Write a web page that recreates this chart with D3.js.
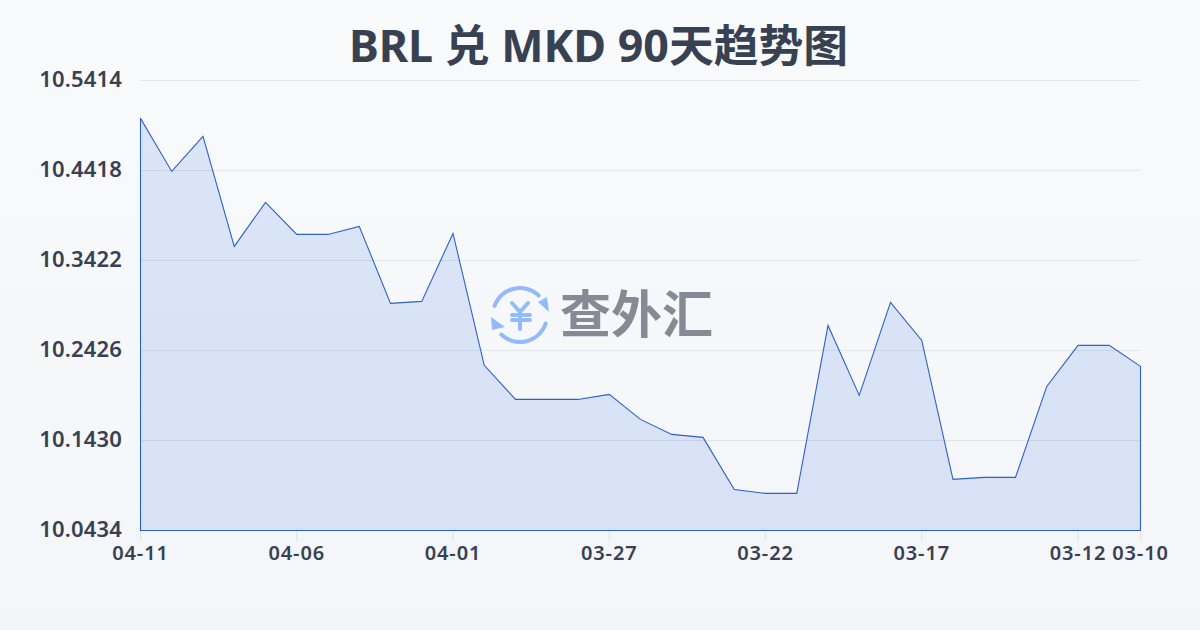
<!DOCTYPE html>
<html><head><meta charset="utf-8">
<script src="https://cdnjs.cloudflare.com/ajax/libs/d3/7.8.5/d3.min.js"></script>
<style>html,body{margin:0;padding:0;background:#f5f7fa}svg{display:block}text{font-family:"Noto Sans","Noto Sans CJK SC",sans-serif;text-rendering:optimizeSpeed;font-kerning:none}</style>
</head><body><svg id="c" width="1200" height="630"></svg>
<script>
const titleText = "BRL 兑 MKD 90天趋势图";
const dates = ["04-11","04-10","04-09","04-08","04-07","04-06","04-05","04-04","04-03","04-02","04-01","03-31","03-30","03-29","03-28","03-27","03-26","03-25","03-24","03-23","03-22","03-21","03-20","03-19","03-18","03-17","03-16","03-15","03-14","03-13","03-12","03-11","03-10"];
const rates = [10.4999,10.4412,10.4800,10.3582,10.4069,10.3715,10.3715,10.3804,10.2952,10.2974,10.3726,10.2266,10.1889,10.1889,10.1889,10.1945,10.1668,10.1502,10.1469,10.0893,10.0849,10.0849,10.2708,10.1934,10.2963,10.2542,10.1004,10.1026,10.1026,10.2033,10.2487,10.2487,10.2255];
const yTicks = [10.0434,10.1430,10.2426,10.3422,10.4418,10.5414];
const xTickLabels = ["04-11","04-06","04-01","03-27","03-22","03-17","03-12","03-10"];

const svg = d3.select("#c");
const defs = svg.append("defs");
const bg = defs.append("linearGradient").attr("id","bg").attr("x1",0).attr("y1",0).attr("x2",0).attr("y2",1);
bg.append("stop").attr("offset",0).attr("stop-color","#f9fafc");
bg.append("stop").attr("offset",1).attr("stop-color","#f3f5f8");
const ag = defs.append("linearGradient").attr("id","ag").attr("gradientUnits","userSpaceOnUse").attr("x1",0).attr("y1",80).attr("x2",0).attr("y2",530);
ag.append("stop").attr("offset",0).attr("stop-color","#dae6f8");
ag.append("stop").attr("offset",1).attr("stop-color","#d8e1f5");
svg.append("rect").attr("width",1200).attr("height",630).attr("fill","url(#bg)");

const x = d3.scalePoint().domain(dates).range([140.5,1140.5]);
const y = d3.scaleLinear().domain([10.0434,10.5414]).range([530.5,80.5]);

svg.append("text").attr("x",598.5).attr("y",62).attr("text-anchor","middle")
  .attr("font-size",44.8).attr("font-weight",700).attr("fill","#374151").text(titleText);

const area = d3.area().x((d,i)=>x(dates[i])).y0(y(10.0434)).y1(d=>y(d));
svg.append("path").datum(rates).attr("d",area).attr("fill","url(#ag)");

svg.append("g").selectAll("line").data(yTicks).join("line")
  .attr("x1",140).attr("x2",1140).attr("y1",d=>y(d)).attr("y2",d=>y(d))
  .attr("stroke","#334155").attr("stroke-opacity",0.1).attr("stroke-width",1);

svg.append("path").datum(rates)
  .attr("d",d3.line().x((d,i)=>x(dates[i])).y(d=>y(d)+0.4))
  .attr("fill","none").attr("stroke","#2f62c8").attr("stroke-width",1.1);
svg.append("path").attr("d",d3.line()([[x(dates[0]),y(rates[0])],[x(dates[0]),y(10.0434)],[x(dates[32]),y(10.0434)],[x(dates[32]),y(rates[32])]]))
  .attr("fill","none").attr("stroke","#2f62c8").attr("stroke-width",1.1);

svg.append("g").selectAll("line").data(xTickLabels).join("line")
  .attr("x1",d=>x(d)).attr("x2",d=>x(d)).attr("y1",531).attr("y2",541)
  .attr("stroke","#334155").attr("stroke-opacity",0.1);

svg.append("g").selectAll("text").data(yTicks).join("text")
  .attr("x",122).attr("y",d=>y(d)+6).attr("text-anchor","end")
  .attr("font-size",22).attr("font-weight",600).attr("letter-spacing",0.15).attr("fill","#374151")
  .text(d=>d.toFixed(4));
svg.append("g").selectAll("text").data(xTickLabels).join("text")
  .attr("x",d=>x(d)).attr("y",560).attr("text-anchor","middle")
  .attr("font-size",20).attr("font-weight",600).attr("letter-spacing",0.9).attr("fill","#374151")
  .text(d=>d);

const logo = svg.append("g");
const blue = "#93bbfb";
const cx = 520, cy = 315, r = 27;
const arc = d3.arc().innerRadius(r-2).outerRadius(r+2).cornerRadius(2);
logo.append("path").attr("transform",`translate(${cx},${cy})`).attr("fill",blue).attr("d",arc({startAngle:-1.3,endAngle:0.84}));
logo.append("path").attr("transform",`translate(${cx},${cy})`).attr("fill",blue).attr("d",arc({startAngle:1.82,endAngle:3.98}));
logo.append("path").attr("fill",blue).attr("d","M549,312 L538,302 L547,297 Z");
logo.append("path").attr("fill",blue).attr("d","M491,317 L505,327 L492,330 Z");
logo.append("path").attr("fill","none").attr("stroke",blue).attr("stroke-width",4).attr("stroke-linecap","round").attr("stroke-linejoin","round")
  .attr("d","M512,303 L520,312 L528,303 M520,312 L520,329 M512,315 L530,315 M512,320 L530,320");
logo.append("text").attr("x",560).attr("y",333).attr("font-size",51).attr("font-weight",700)
  .attr("fill","#858a94").style("font-family",'"Noto Sans CJK SC"').text("查外汇");
</script></body></html>
